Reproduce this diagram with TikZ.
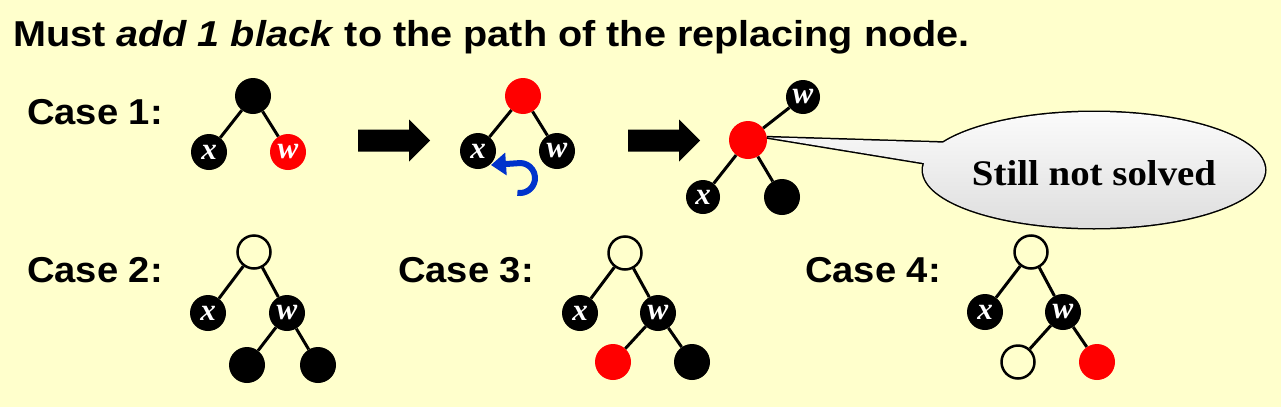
\documentclass[tikz,border=0pt]{standalone}
\usepackage{fontspec}
\setmainfont{Liberation Serif}
\setsansfont{Liberation Sans}
\usetikzlibrary{arrows.meta,calc}
\definecolor{bg}{RGB}{255,255,204}
\definecolor{rbred}{RGB}{255,0,0}
\definecolor{rotblue}{RGB}{0,51,204}
\begin{document}
\begin{tikzpicture}[x=1pt,y=-1pt,
  tn/.style={circle,inner sep=0pt,minimum size=36pt,font=\fontsize{31}{31}\selectfont\bfseries\itshape,text=white},
  bn/.style={tn,fill=black},
  rn/.style={tn,fill=rbred},
  wn/.style={tn,draw=black,line width=2.5pt,fill=bg,minimum size=33pt},
  edge/.style={line width=3pt},
  lbl/.style={anchor=base west,inner sep=0pt,font=\sffamily\bfseries\fontsize{36}{36}\selectfont},
  bigarrow/.style={fill=black},
]
\fill[bg] (0,0) rectangle (1281,407);
\useasboundingbox (0,0) rectangle (1281,407);

% title
\node[lbl] (title) at (13,46) {\scalebox{1.1}[1]{Must \textit{add 1 black} to the path of the replacing node.}};

% labels
\node[lbl] (case1) at (27,124) {\scalebox{1.06}[1]{Case 1:}};
\node[lbl] (case2) at (27,282) {\scalebox{1.06}[1]{Case 2:}};
\node[lbl] (case3) at (398,282) {\scalebox{1.06}[1]{Case 3:}};
\node[lbl] (case4) at (805,282) {\scalebox{1.06}[1]{Case 4:}};

% Case 1, first tree
\node[bn] (a1) at (253,96) {};
\node[bn] (a1x) at (209,152) {x};
\node[rn] (a1w) at (288,152) {w};
\draw[edge] (a1) -- (a1x);
\draw[edge] (a1) -- (a1w);

% arrow 1
\fill[bigarrow] (358,129.5) -- (409,129.5) -- (409,119.5) -- (430,140.5) -- (409,161.5) -- (409,151.5) -- (358,151.5) -- cycle;

% Case 1, second tree
\node[rn] (b1) at (523,96) {};
\node[bn] (b1x) at (478,151) {x};
\node[bn] (b1w) at (557,151) {w};
\draw[edge] (b1) -- (b1x);
\draw[edge] (b1) -- (b1w);
\coordinate (rotc) at ($(b1x)+(42,27)$);
\begin{scope}[shift={(rotc)},x=1pt,y=1pt]
\draw[rotblue,line width=6pt,-{Triangle[length=15pt,width=22pt]}]
  (-100:15) arc[start angle=-100,end angle=100,radius=15] -- (-29,13);
\end{scope}

% arrow 2
\fill[bigarrow] (628,129.5) -- (679,129.5) -- (679,119.5) -- (700,140.5) -- (679,161.5) -- (679,151.5) -- (628,151.5) -- cycle;

% Case 1, third tree
\node[rn,minimum size=38pt] (c1) at (748,140) {};
\node[bn,minimum size=34pt] (c1w) at (803,97) {w};
\node[bn,minimum size=34pt] (c1x) at (703,197) {x};
\node[bn] (c1b) at (782,197) {};
\draw[edge] (c1) -- (c1w);
\draw[edge] (c1) -- (c1x);
\draw[edge] (c1) -- (c1b);

% callout
\coordinate (bc) at (1094,170);
\coordinate (p1) at ($(bc)+(-140,-27)$);
\coordinate (p2) at ($(bc)+(-152,-4)$);
\draw[line width=3pt] (bc) ellipse[x radius=171pt,y radius=58pt];
\draw[line width=3pt,line join=miter] (p1) -- (c1.8) -- (p2);
\shade[top color=gray!3,bottom color=gray!26]
  (bc) ellipse[x radius=171pt,y radius=58pt]
  (p1) -- (c1.8) -- (p2) -- cycle;
\node[font=\fontsize{36}{36}\selectfont\bfseries,inner sep=0pt] (bubble) at ($(bc)+(0,3)$) {\scalebox{1.08}[1]{Still not solved}};

% Case 2
\node[wn] (d) at (254,252) {};
\node[bn] (dx) at (208,313) {x};
\node[bn] (dw) at (287,313) {w};
\node[bn] (dl) at (247,365) {};
\node[bn] (dr) at (318,365) {};
\draw[edge] (d) -- (dx);
\draw[edge] (d) -- (dw);
\draw[edge] (dw) -- (dl);
\draw[edge] (dw) -- (dr);

% Case 3
\node[wn] (e) at (625,253) {};
\node[bn] (ex) at (580,313) {x};
\node[bn] (ew) at (658,313) {w};
\node[rn] (el) at (613,362) {};
\node[bn] (er) at (692,362) {};
\draw[edge] (e) -- (ex);
\draw[edge] (e) -- (ew);
\draw[edge] (ew) -- (el);
\draw[edge] (ew) -- (er);

% Case 4
\node[wn] (f) at (1031,252) {};
\node[bn] (fx) at (985,312) {x};
\node[bn] (fw) at (1063,312) {w};
\node[wn] (fl) at (1018,362) {};
\node[rn] (fr) at (1097,362) {};
\draw[edge] (f) -- (fx);
\draw[edge] (f) -- (fw);
\draw[edge] (fw) -- (fl);
\draw[edge] (fw) -- (fr);
\end{tikzpicture}
\end{document}
